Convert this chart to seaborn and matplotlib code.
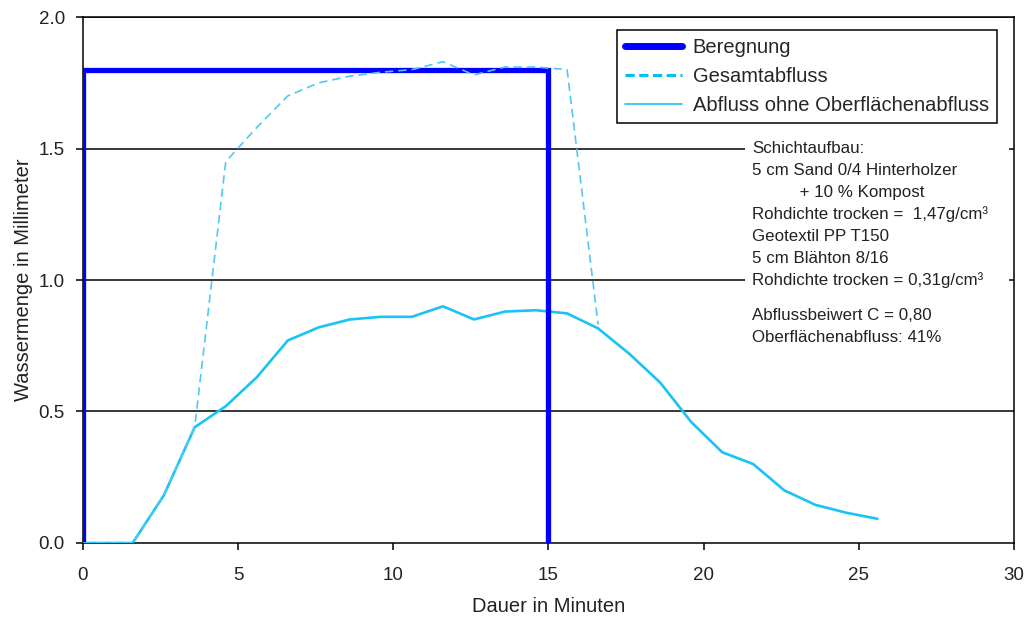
import matplotlib
matplotlib.use("Agg")
import matplotlib.pyplot as plt
import seaborn as sns
import pandas as pd
from matplotlib.lines import Line2D
from matplotlib.patches import Rectangle

# ---- data ----
beregnung_x = [0, 0, 15, 15]
beregnung_y = [0.0, 1.8, 1.8, 0.0]

zeit = [0, 1.6, 2.6, 3.6, 4.6, 5.6, 6.6, 7.6, 8.6, 9.6, 10.6, 11.6, 12.6,
        13.6, 14.6, 15.6, 16.6, 17.6, 18.6, 19.6, 20.6, 21.6, 22.6, 23.6,
        24.6, 25.6]
abfluss_ohne = [0.0, 0.0, 0.18, 0.44, 0.52, 0.63, 0.77, 0.82, 0.85, 0.86,
                0.86, 0.90, 0.85, 0.88, 0.885, 0.873, 0.816, 0.72, 0.61,
                0.46, 0.345, 0.30, 0.20, 0.145, 0.115, 0.092]

gesamt_zeit = [0, 1.6, 2.6, 3.6, 4.6, 5.6, 6.6, 7.6, 8.6, 9.6, 10.6, 11.6,
               12.6, 13.6, 14.6, 15.6, 16.6]
gesamtabfluss = [0.0, 0.0, 0.18, 0.44, 1.45, 1.58, 1.70, 1.75, 1.775, 1.79,
                 1.80, 1.83, 1.78, 1.81, 1.81, 1.80, 0.83]

x_ticks = [0, 5, 10, 15, 20, 25, 30]
y_ticks = [0.0, 0.5, 1.0, 1.5, 2.0]
y_ticklabels = ["0.0", "0.5", "1.0", "1.5", "2.0"]

legend_labels = ["Beregnung", "Gesamtabfluss", "Abfluss ohne Oberflächenabfluss"]

info_block1 = ["Schichtaufbau:",
               "5 cm Sand 0/4 Hinterholzer",
               "          + 10 % Kompost",
               "Rohdichte trocken =  1,47g/cm³",
               "Geotextil PP T150",
               "5 cm Blähton 8/16",
               "Rohdichte trocken = 0,31g/cm³"]
info_block2 = ["Abflussbeiwert C = 0,80",
               "Oberflächenabfluss: 41%"]

# ---- style ----
sns.set_style("white")
plt.rcParams["font.family"] = ["Liberation Sans", "DejaVu Sans"]

c_ber = "#0000FF"
c_ges = "#4FC9F3"
c_ohne = "#19C3F5"
txt = "#222222"

fig = plt.figure(figsize=(10.27, 6.19), dpi=100)
ax = fig.add_axes([0.0808, 0.1228, 0.9065, 0.8497])

df_b = pd.DataFrame({"x": beregnung_x, "y": beregnung_y})
df_o = pd.DataFrame({"x": zeit, "y": abfluss_ohne})
df_g = pd.DataFrame({"x": gesamt_zeit, "y": gesamtabfluss})

for v in y_ticks[1:]:
    ax.axhline(v, color="black", lw=1.1, zorder=1)

sns.lineplot(data=df_o, x="x", y="y", ax=ax, color=c_ohne, lw=1.9,
             sort=False, estimator=None, zorder=3)
sns.lineplot(data=df_b, x="x", y="y", ax=ax, color=c_ber, lw=3.8,
             sort=False, estimator=None, zorder=4, solid_joinstyle="miter")
sns.lineplot(data=df_g, x="x", y="y", ax=ax, color=c_ges, lw=1.2,
             sort=False, estimator=None, zorder=5, linestyle=(0, (5, 3)))

ax.set_xlim(0, 30)
ax.set_ylim(0, 2.0)
ax.set_xticks(x_ticks)
ax.set_xticklabels([str(t) for t in x_ticks])
ax.set_yticks(y_ticks)
ax.set_yticklabels(y_ticklabels)
ax.tick_params(axis="both", direction="out", length=5, width=1.1, color="black",
               labelsize=13.5, labelcolor=txt, bottom=True, left=True)
ax.tick_params(axis="x", pad=12)
ax.tick_params(axis="y", pad=8)
for s in ax.spines.values():
    s.set_color("black")
    s.set_linewidth(1.1)

ax.set_xlabel("Dauer in Minuten", fontsize=14.5, labelpad=10, color=txt)
ax.set_ylabel("Wassermenge in Millimeter", fontsize=14.5, labelpad=4, color=txt)

handles = [Line2D([], [], color=c_ber, lw=5, solid_capstyle="round"),
           Line2D([], [], color="#00BFF3", lw=2.2, linestyle=(0, (3, 1.5))),
           Line2D([], [], color=c_ohne, lw=1.2)]
leg = ax.legend(handles, legend_labels, loc="upper right",
                bbox_to_anchor=(0.9817, 0.976), fontsize=14.5, frameon=True,
                fancybox=False, edgecolor="black", framealpha=1,
                handlelength=2.8, borderpad=0.4, labelspacing=0.5,
                handletextpad=0.55, borderaxespad=0)
leg.get_frame().set_linewidth(1.1)

# white background behind the info text (covers gridlines)
ax.add_patch(Rectangle((0.711, 0.367), 0.284, 0.405, transform=ax.transAxes,
                       facecolor="white", edgecolor="none", zorder=2))

x0 = 0.7185
y_start = 1 - (148.6 - 17) / 526
step = 21.9 / 526
for i, line in enumerate(info_block1):
    ax.text(x0, y_start - i * step, line, transform=ax.transAxes,
            fontsize=12.2, va="center", ha="left", color=txt, zorder=6)
y2 = 1 - (315.9 - 17) / 526
for i, line in enumerate(info_block2):
    ax.text(x0, y2 - i * step, line, transform=ax.transAxes,
            fontsize=12.2, va="center", ha="left", color=txt, zorder=6)

fig.savefig("out.png", dpi=100)
